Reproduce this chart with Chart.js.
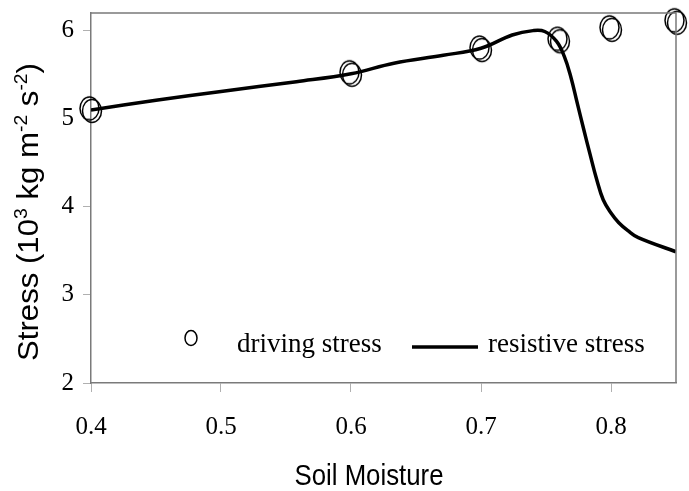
<!DOCTYPE html>
<html>
<head>
<meta charset="utf-8">
<script src="https://cdn.jsdelivr.net/npm/chart.js@4"></script>
<style>
html,body{margin:0;padding:0;background:#fff;}
#c{display:block;}
</style>
</head>
<body>
<canvas id="c" width="689" height="491"></canvas>
<script>
// ---- data ----
const xTickValues = [0.4, 0.5, 0.6, 0.7, 0.8];
const yTickValues = [2, 3, 4, 5, 6];

const drivingX = [0.40, 0.60, 0.70, 0.76, 0.80, 0.85];
const drivingY = [5.10, 5.51, 5.79, 5.89, 6.02, 6.10];

const resistiveX = [0.400, 0.450, 0.500, 0.558, 0.600, 0.633, 0.671, 0.700, 0.724, 0.740, 0.749, 0.758, 0.764, 0.769, 0.774, 0.779, 0.784, 0.789, 0.794, 0.800, 0.806, 0.813, 0.821, 0.850];
const resistiveY = [5.10, 5.21, 5.31, 5.42, 5.51, 5.63, 5.72, 5.80, 5.95, 6.00, 5.99, 5.88, 5.71, 5.48, 5.18, 4.88, 4.59, 4.31, 4.08, 3.93, 3.82, 3.73, 3.65, 3.49];

const seriesLabels = ['driving stress', 'resistive stress'];
const xTitle = 'Soil Moisture';
const yTitleParts = [['Stress (10', false], ['3', true], [' kg m', false], ['-2', true], [' s', false], ['-2', true], [')', false]];

// ---- point style: double ellipse (scanned look) ----
function makeDoubleCircle() {
  const c = document.createElement('canvas');
  c.width = 30; c.height = 34;
  const g = c.getContext('2d');
  g.strokeStyle = '#000';
  g.lineWidth = 1.5;
  g.beginPath(); g.ellipse(13.5, 15.5, 9.5, 11.5, 0, 0, Math.PI * 2); g.stroke();
  g.beginPath(); g.ellipse(16, 18, 9.5, 11.5, 0, 0, Math.PI * 2); g.stroke();
  return c;
}
const dblCircle = makeDoubleCircle();

const serifFont = "'Liberation Serif', 'Times New Roman', serif";
const sansFont = "'Liberation Sans', Arial, sans-serif";

const frame = {
  id: 'frame',
  afterDraw(chart) {
    const {ctx, chartArea: a} = chart;
    ctx.save();
    ctx.strokeStyle = '#7a7a7a';
    ctx.lineWidth = 1.5;
    ctx.beginPath();
    ctx.moveTo(a.left, a.top); ctx.lineTo(a.right, a.top); ctx.lineTo(a.right, a.bottom);
    ctx.stroke();
    ctx.restore();
  }
};

const titles = {
  id: 'titles',
  afterDraw(chart) {
    const ctx = chart.ctx;
    ctx.save();
    ctx.fillStyle = '#000';
    ctx.font = '30px ' + sansFont;
    ctx.textBaseline = 'alphabetic';
    ctx.textAlign = 'left';
    const w = ctx.measureText(xTitle).width;
    const targetW = 149;
    ctx.save();
    ctx.translate(369 - targetW / 2, 485);
    ctx.scale(targetW / w, 1);
    ctx.fillText(xTitle, 0, 0);
    ctx.restore();
    const base = '29px ' + sansFont, sup = '18px ' + sansFont;
    let total = 0;
    yTitleParts.forEach(([t, s]) => { ctx.font = s ? sup : base; total += ctx.measureText(t).width; });
    const targetL = 298;
    ctx.save();
    ctx.translate(38, 212);
    ctx.rotate(-Math.PI / 2);
    ctx.scale(targetL / total, 1);
    let x = -total / 2;
    yTitleParts.forEach(([t, s]) => {
      ctx.font = s ? sup : base;
      ctx.fillText(t, x, s ? -11 : 0);
      x += ctx.measureText(t).width;
    });
    ctx.restore();
    ctx.restore();
  }
};

const legendInside = {
  id: 'legendInside',
  afterDraw(chart) {
    const ctx = chart.ctx;
    const ds = chart.data.datasets;
    ctx.save();
    ctx.fillStyle = '#000';
    ctx.font = '27px ' + serifFont;
    ctx.textBaseline = 'alphabetic';
    ctx.textAlign = 'left';
    ctx.strokeStyle = '#000';
    ctx.lineWidth = 1.5;
    ctx.beginPath(); ctx.ellipse(191, 338, 6, 7.5, 0, 0, Math.PI * 2); ctx.stroke();
    ctx.fillText(ds[0].label, 237, 352);
    ctx.lineWidth = 3.5;
    ctx.beginPath(); ctx.moveTo(412, 347); ctx.lineTo(478, 347); ctx.stroke();
    ctx.fillText(ds[1].label, 488, 352);
    ctx.restore();
  }
};

new Chart(document.getElementById('c'), {
  type: 'scatter',
  data: {
    datasets: [
      {
        label: seriesLabels[0],
        data: drivingX.map((x, i) => ({x, y: drivingY[i]})),
        pointStyle: dblCircle,
        pointRadius: 12,
        showLine: false,
        clip: false,
        order: 2
      },
      {
        label: seriesLabels[1],
        data: resistiveX.map((x, i) => ({x, y: resistiveY[i]})),
        showLine: true,
        borderColor: '#000',
        borderWidth: 3.5,
        pointRadius: 0,
        tension: 0.4,
        order: 1
      }
    ]
  },
  options: {
    responsive: false,
    animation: false,
    devicePixelRatio: 1,
    layout: {padding: {top: 13, right: 5, left: 0, bottom: 0}},
    plugins: {legend: {display: false}, tooltip: {enabled: false}},
    scales: {
      x: {
        type: 'linear',
        min: 0.4, max: 0.85,
        afterBuildTicks: s => { s.ticks = xTickValues.map(v => ({value: v})); },
        afterFit: s => { s.height = 108; s.paddingLeft = 0; s.paddingRight = 0; },
        grid: {drawOnChartArea: false, drawTicks: true, tickLength: 9, color: '#b0b0b0'},
        border: {display: true, color: '#7a7a7a', width: 1.5},
        ticks: {
          font: {family: serifFont, size: 25},
          color: '#000',
          padding: 20,
          maxRotation: 0,
          callback: v => String(v)
        }
      },
      y: {
        min: 2, max: 6.2,
        afterBuildTicks: s => { s.ticks = yTickValues.map(v => ({value: v})); },
        afterFit: s => { s.width = 91; s.paddingTop = 0; s.paddingBottom = 0; },
        grid: {drawOnChartArea: false, drawTicks: true, tickLength: 8, color: '#b0b0b0'},
        border: {display: true, color: '#7a7a7a', width: 1.5},
        ticks: {
          font: {family: serifFont, size: 25},
          color: '#000',
          padding: 9,
          callback: v => String(v)
        }
      }
    }
  },
  plugins: [frame, titles, legendInside]
});
</script>
</body>
</html>
